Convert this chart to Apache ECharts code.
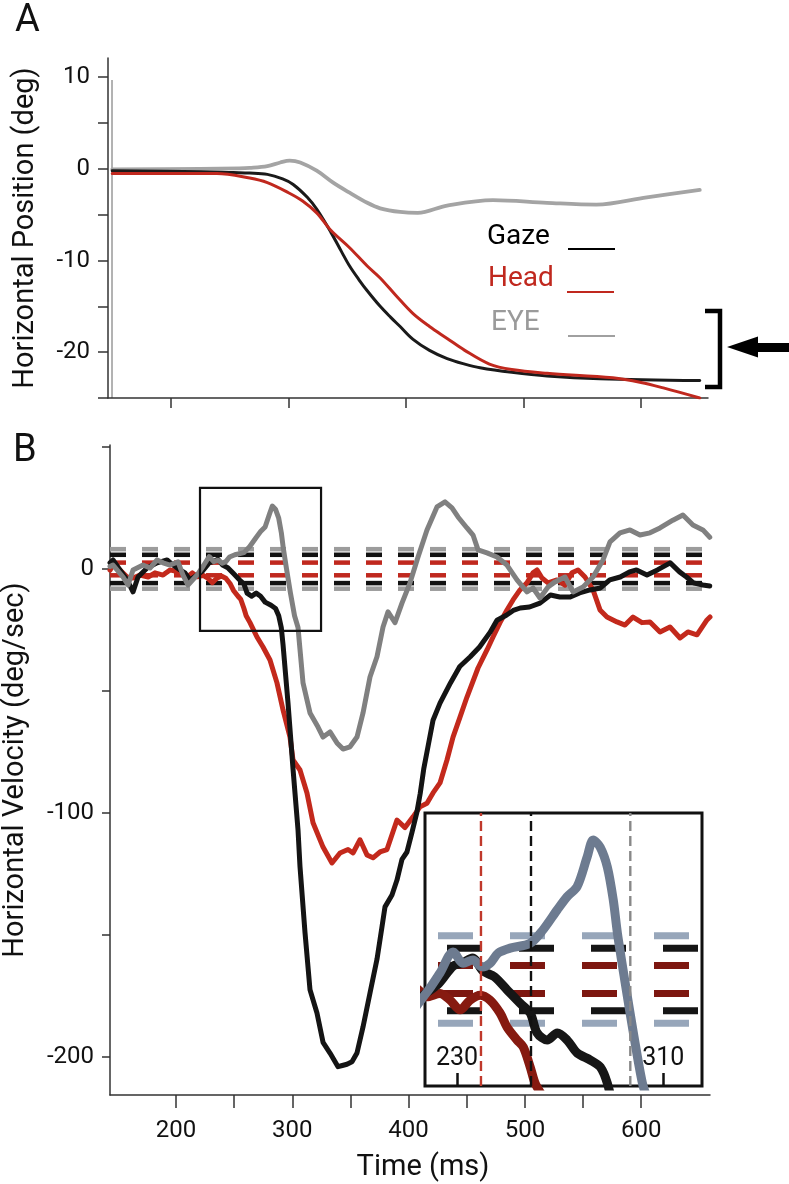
<!DOCTYPE html>
<html><head><meta charset="utf-8">
<script src="https://cdn.jsdelivr.net/npm/echarts@6/dist/echarts.min.js"></script>
<style>html,body{margin:0;padding:0;background:#fff}#c{width:789px;height:1184px}</style>
</head><body><div id="c"></div>
<script>
// ---------- DATA ----------
// Panel A: horizontal position (deg) vs time (ms)
const gazePosA = [[150,-0.2],[225,-0.3],[253,-0.4],[267,-0.45],[282,-0.6],[295,-1.1],[304,-1.7],[316,-3.1],[324,-4.4],[336,-6.9],[345,-9.0],[352,-10.6],[360,-12.1],[367,-13.3],[378,-15.0],[387,-16.2],[395,-17.2],[406,-18.6],[420,-19.8],[435,-20.7],[450,-21.3],[463,-21.7],[490,-22.2],[520,-22.6],[565,-22.9],[650,-23.1]];
const headPosA = [[150,-0.5],[239,-0.5],[267,-1.0],[282,-1.5],[300,-2.6],[312,-3.5],[324,-4.8],[336,-6.7],[352,-8.6],[367,-10.6],[378,-11.9],[392,-13.9],[406,-15.8],[420,-17.2],[435,-18.5],[450,-19.8],[471,-21.3],[490,-21.9],[520,-22.3],[576,-22.8],[600,-23.3],[619,-23.9],[650,-25.0]];
const eyePosA = [[150,-0.05],[225,0.0],[258,0.05],[267,0.1],[282,0.3],[293,0.7],[301,0.9],[310,0.7],[324,-0.2],[338,-1.5],[352,-2.6],[367,-3.7],[378,-4.3],[395,-4.7],[410,-4.8],[435,-4.0],[474,-3.4],[520,-3.7],[562,-3.9],[605,-3.1],[650,-2.3]];

// Panel B: horizontal velocity (deg/sec) vs time (ms)
const gazeVelB = [[143.2,2.5],[145.8,3.7],[151.8,-0.4],[157.9,-4.5],[163,-9.4],[167.3,-3.3],[175.1,0.4],[183.7,2.5],[192.3,3.7],[197.4,1.6],[203.4,-0.4],[207.7,-1.6],[212,-4.5],[218.1,-2.5],[223,-0.7],[228.5,2.5],[232,3.0],[236,4.0],[240,1.6],[244.5,0.5],[249.4,-1.9],[254.5,-4.4],[258.4,-6.2],[261.1,-9.9],[265,-11.2],[268.9,-9.9],[272.7,-11.2],[276.6,-13.6],[281.7,-14.9],[285.6,-16.2],[288.3,-19.2],[290.5,-24],[292,-31],[296.3,-55],[300.6,-82],[304.9,-107],[306.6,-122],[310.9,-149],[315.2,-172.5],[321.2,-182],[326.4,-194],[332.4,-198.4],[339.3,-204],[343,-203.5],[347,-203],[351.3,-202],[355.6,-198.4],[360.8,-187.7],[366.8,-173.8],[372.8,-160],[377.1,-146.7],[379.7,-138.5],[385.7,-133.6],[390,-127.5],[394.3,-119],[398.6,-116],[402.9,-108],[407,-100],[410,-92],[413,-82],[417,-72],[421,-62],[427,-55],[436,-46.7],[444,-40],[453,-36],[461,-32],[470,-26],[476,-21],[484,-19],[490,-17],[496,-16],[504,-15.6],[513,-14],[522,-10.7],[530,-11.5],[539,-11.5],[547,-9.8],[556,-8.6],[565,-7.8],[573,-4.5],[582,-3.3],[590,-1.2],[596,-0.4],[605,-2.5],[614,-0.4],[625,2.5],[633,-1.2],[639,-3.3],[645,-5.7],[653,-6.6],[659,-7]];
const headVelB = [[143.2,-0.5],[145.8,1.6],[151.8,-0.4],[157.9,-3.3],[163,-3.7],[169,-2.5],[176,-3.3],[181.9,-1.6],[188.8,-2.5],[194.8,-0.4],[201.7,-1.2],[209.5,-3.3],[214,-1.6],[218.3,-3.2],[223.4,-2.6],[227.3,-3.8],[231.2,-5.6],[235.1,-3.8],[239,-2.9],[242.8,-3.8],[246.7,-6.2],[249.4,-8.8],[253.3,-11.2],[255.7,-12.5],[258.4,-16.2],[260.3,-19.2],[263.6,-22],[269.6,-27.9],[274.8,-32],[280.8,-37.3],[286.8,-46.7],[292,-57.8],[298,-68.9],[300.6,-78.3],[306.6,-82.4],[312.6,-91.8],[317.8,-104],[326.4,-114],[334.1,-120.5],[341,-116.4],[347.9,-115],[352.2,-116.4],[358.2,-111],[364.2,-117.2],[369.4,-118.4],[375.4,-116],[381.4,-115],[390,-102.9],[396.9,-106],[403.8,-101.6],[409.8,-97.5],[415.8,-96],[421,-91.8],[427,-87.7],[433,-78.3],[438.2,-68.9],[444.2,-60.7],[450.2,-52.5],[459.7,-40.6],[467.4,-33.2],[472.6,-27.9],[478.6,-22],[484.6,-16.8],[489.8,-12.7],[495.8,-8.6],[501.8,-5.7],[507,-1.6],[510.4,-0.4],[514.7,-3.7],[519.9,-5.7],[527.6,-4.5],[534.5,-6.6],[540.5,-1.6],[545.7,-0.4],[551.7,-3.3],[558.6,-8.6],[564.6,-16.8],[570.6,-19.7],[579.2,-21.7],[586.1,-23],[593,-19.7],[600.7,-22],[607.6,-21.7],[616.2,-25.8],[624.8,-23.8],[633.4,-28.3],[640.2,-25.8],[648,-27],[656.6,-20.9],[659.2,-19.7]];
const eyeVelB = [[143.2,1.0],[145.8,1.6],[154.4,-3.3],[158.7,-6.6],[163,-0.4],[171.6,1.6],[177.6,0.4],[183.7,3.7],[188.8,2.5],[194.8,1.6],[201.7,2.9],[206,-2.5],[210.3,-6.6],[218.1,-2.5],[223.4,1.2],[228.5,5.1],[232.4,3.0],[236.2,3.6],[239.7,2.3],[242.8,3.0],[246,4.9],[250.6,5.8],[258.4,6.7],[263.4,9.2],[268.9,12.9],[272.7,15.3],[276.6,17.2],[280.5,22.7],[282.8,25.8],[285.5,24.5],[288.3,20.8],[290.6,14.7],[292.2,8.6],[295,0],[298.4,-9.9],[301.9,-19.2],[304.9,-24],[306.6,-33],[309.2,-46.7],[315.2,-59],[322.1,-64.8],[326.4,-68.9],[332.4,-66.8],[338.4,-71.3],[343.6,-73.8],[349.6,-72.9],[355.6,-68.9],[360.8,-59],[366.8,-44.3],[372.8,-36],[378,-23.8],[382.3,-17.6],[388.3,-22],[394.3,-14],[401.2,-5.7],[408.1,4.9],[415.8,16],[424.4,25.4],[431.3,27.5],[437.3,25],[442.5,21.3],[450.2,16.8],[455.4,13.9],[459.7,7.8],[467.4,6.6],[476,4.9],[484.6,1.6],[493.2,-4.5],[501.8,-9.4],[507,-7.8],[513,-11.9],[519.9,-7.4],[525.9,-5.3],[534.5,-3.3],[541.4,-9.4],[550,-7.4],[558.6,-3.3],[567.2,3.7],[573.2,11.1],[581.8,14.8],[590.4,16],[599,13.9],[607.6,14.8],[616.2,16.8],[627.3,20],[635.9,22.1],[644.5,18],[653.1,16],[659,13]];

// velocity thresholds (deg/sec): eye, gaze, head
const thrEye = 8.1, thrGaze = 5.8, thrHead = 2.6;
// movement onset times shown in inset (ms): head, gaze, eye
const onsetTimes = [239.3, 258.7, 297.2];
// zoom box drawn in panel B: [t0, t1, v0, v1]
const zoomBox = [220.6, 324.7, -25.4, 33.2];

// axis ticks / labels
const aTimeTicks = [200, 300, 400, 500, 600];
const aPosTicks = [-25, -20, -15, -10, -5, 0, 5, 10];
const aPosLabels = [-20, -10, 0, 10];
const bTimeTicks = [200, 250, 300, 350, 400, 450, 500, 550, 600];
const bTimeLabels = [200, 300, 400, 500, 600];
const bVelTicks = [-200, -150, -100, -50, 0, 50];
const bVelLabels = [-200, -100, 0];
const insetTicks = [230, 310];

// axis ranges
const aX = [146.4, 657], aY = [-25, 12.1];
const bX = [143.2, 659.2], bY = [-215.6, 50.8];
const iX = [217.6, 325], iY = [-19.7, 30.8];

// ---------- CHART ----------
const FONT = 'Roboto, "Open Sans", sans-serif';
const chart = echarts.init(document.getElementById('c'), null, {renderer: 'canvas'});

function hLine(v, r) { return [[r[0], v], [r[1], v]]; }
function vLine(t, r) { return [[t, r[0]], [t, r[1]]]; }
function lineSeries(data, xi, color, width, extra) {
  return Object.assign({
    type: 'line', xAxisIndex: xi, yAxisIndex: xi, data: data, symbol: 'none',
    lineStyle: {color: color, width: width, join: 'round', cap: 'round'},
    silent: true, animation: false
  }, extra || {});
}
function dashSeries(data, xi, color, width, dash, offset, z) {
  return {
    type: 'line', xAxisIndex: xi, yAxisIndex: xi, data: data, symbol: 'none', silent: true, animation: false,
    z: z, lineStyle: {color: color, width: width, type: dash, dashOffset: offset, cap: 'butt'}
  };
}

const axisCol = '#333';
const labelStyle = {color: '#111', fontSize: 24, fontFamily: FONT};

const series = [];
// Panel A
series.push(lineSeries(eyePosA, 0, '#a4a4a4', 3.8, {smooth: 0.35}));
series.push(lineSeries(gazePosA, 0, '#1a1a1a', 3, {smooth: 0.35}));
series.push(lineSeries(headPosA, 0, '#c0281e', 3, {smooth: 0.35}));
// Panel B thresholds
const mainDash = [16, 16];
[[thrEye, '#9c9c9c'], [thrGaze, '#111111'], [thrHead, '#c0281e']].forEach(function (p) {
  series.push(dashSeries(hLine(p[0], bX), 1, p[1], 4.5, mainDash, 0, 2));
  series.push(dashSeries(hLine(-p[0], bX), 1, p[1], 4.5, mainDash, 0, 2));
});
series.push(lineSeries(headVelB, 1, '#c3291c', 5, {z: 3}));
series.push(lineSeries(gazeVelB, 1, '#141414', 5, {z: 3}));
series.push(lineSeries(eyeVelB, 1, '#808080', 5, {z: 3}));
series.push(lineSeries([[zoomBox[0], zoomBox[3]], [zoomBox[1], zoomBox[3]], [zoomBox[1], zoomBox[2]], [zoomBox[0], zoomBox[2]], [zoomBox[0], zoomBox[3]]], 1, '#111', 2.2, {z: 3, lineStyle: {color: '#111', width: 2.2, join: 'miter', cap: 'square'}}));
// Inset thresholds
const insetDash = [35, 37];
[[thrEye, '#97a6ba', 59], [thrGaze, '#151515', 50], [thrHead, '#7d1710', 59]].forEach(function (p) {
  series.push(dashSeries(hLine(p[0], iX), 2, p[1], 7, insetDash, p[2], 7));
  series.push(dashSeries(hLine(-p[0], iX), 2, p[1], 7, insetDash, p[2], 7));
});
series.push(lineSeries(headVelB, 2, '#861a10', 9, {z: 8, smooth: 0.3}));
series.push(lineSeries(gazeVelB, 2, '#161616', 9, {z: 8, smooth: 0.3}));
series.push(lineSeries(eyeVelB, 2, '#6d7b90', 9, {z: 8, smooth: 0.3}));
[['#c0392b', onsetTimes[0]], ['#111111', onsetTimes[1]], ['#888888', onsetTimes[2]]].forEach(function (p) {
  series.push(dashSeries(vLine(p[1], iY), 2, p[0], 2.4, [10, 5], 0, 9));
});

const option = {
  backgroundColor: '#fff',
  animation: false,
  textStyle: {fontFamily: FONT},
  grid: [
    {left: 108, top: 58, width: 600, height: 340, outerBoundsMode: 'none', containLabel: false},
    {left: 110, top: 445, width: 600, height: 650, outerBoundsMode: 'none', containLabel: false},
    {left: 425, top: 813, width: 277, height: 273, outerBoundsMode: 'none', containLabel: false,
     show: true, backgroundColor: '#fff', borderColor: '#111', borderWidth: 3, z: 5}
  ],
  xAxis: [
    {gridIndex: 0, type: 'value', min: aX[0], max: aX[1],
     axisLine: {show: true, onZero: false, lineStyle: {color: axisCol, width: 1.5}},
     axisTick: {show: true, length: 10, customValues: aTimeTicks, lineStyle: {color: axisCol, width: 1.5}},
     axisLabel: {show: false}, splitLine: {show: false}},
    {gridIndex: 1, type: 'value', min: bX[0], max: bX[1],
     axisLine: {show: true, onZero: false, lineStyle: {color: axisCol, width: 1.5}},
     axisTick: {show: true, length: 13, customValues: bTimeTicks, lineStyle: {color: axisCol, width: 1.5}},
     axisLabel: Object.assign({customValues: bTimeLabels, margin: 24}, labelStyle),
     splitLine: {show: false},
     name: 'Time (ms)', nameLocation: 'middle', nameGap: 58,
     nameTextStyle: {fontSize: 29, color: '#111', fontFamily: FONT, padding: [0, 0, 0, 26]}},
    {gridIndex: 2, type: 'value', min: iX[0], max: iX[1], z: 6,
     axisLine: {show: false, onZero: false},
     axisTick: {show: true, inside: true, length: 13, customValues: insetTicks, lineStyle: {color: '#111', width: 2.5}},
     axisLabel: Object.assign({inside: true, customValues: insetTicks, margin: 15}, labelStyle, {fontSize: 25}),
     splitLine: {show: false}}
  ],
  yAxis: [
    {gridIndex: 0, type: 'value', min: aY[0], max: aY[1],
     axisLine: {show: true, onZero: false, lineStyle: {color: axisCol, width: 1.5}},
     axisTick: {show: true, length: 10, customValues: aPosTicks, lineStyle: {color: axisCol, width: 1.5}},
     axisLabel: Object.assign({customValues: aPosLabels, margin: 18}, labelStyle),
     splitLine: {show: false},
     name: 'Horizontal Position (deg)', nameLocation: 'middle', nameGap: 68,
     nameTextStyle: {fontSize: 29, color: '#111', fontFamily: FONT}},
    {gridIndex: 1, type: 'value', min: bY[0], max: bY[1],
     axisLine: {show: true, onZero: false, lineStyle: {color: axisCol, width: 1.5}},
     axisTick: {show: true, length: 8, customValues: bVelTicks, lineStyle: {color: axisCol, width: 1.5}},
     axisLabel: Object.assign({customValues: bVelLabels, margin: 16}, labelStyle),
     splitLine: {show: false},
     name: 'Horizontal Velocity (deg/sec)', nameLocation: 'middle', nameGap: 80,
     nameTextStyle: {fontSize: 29, color: '#111', fontFamily: FONT}},
    {gridIndex: 2, type: 'value', min: iY[0], max: iY[1], z: 6,
     axisLine: {show: false}, axisTick: {show: false}, axisLabel: {show: false}, splitLine: {show: false}}
  ],
  series: series,
  graphic: [
    {type: 'text', left: 15, top: 2, silent: true, style: {text: 'A', fontSize: 38, fontFamily: FONT, fill: '#111'}},
    {type: 'text', left: 13, top: 432, silent: true, style: {text: 'B', fontSize: 38, fontFamily: FONT, fill: '#111'}},
    {type: 'line', silent: true, shape: {x1: 112, y1: 80, x2: 112, y2: 398}, style: {stroke: '#666', lineWidth: 1}},
    {type: 'text', x: 487, y: 237, silent: true, style: {text: 'Gaze', fontSize: 28, fontFamily: FONT, fill: '#000', textVerticalAlign: 'middle'}},
    {type: 'text', x: 488, y: 279, silent: true, style: {text: 'Head', fontSize: 28, fontFamily: FONT, fill: '#c0281e', textVerticalAlign: 'middle'}},
    {type: 'text', x: 491, y: 323, silent: true, style: {text: 'EYE', fontSize: 28, fontFamily: FONT, fill: '#9a9a9a', textVerticalAlign: 'middle'}},
    {type: 'line', silent: true, shape: {x1: 568, y1: 249, x2: 615, y2: 249}, style: {stroke: '#000', lineWidth: 2}},
    {type: 'line', silent: true, shape: {x1: 567, y1: 292, x2: 614, y2: 292}, style: {stroke: '#c0281e', lineWidth: 2}},
    {type: 'line', silent: true, shape: {x1: 568, y1: 336, x2: 615, y2: 336}, style: {stroke: '#a0a0a0', lineWidth: 2}},
    {type: 'polyline', silent: true, shape: {points: [[705, 311], [720, 311], [720, 387], [705, 387]]}, style: {stroke: '#000', lineWidth: 4.5, fill: null}},
    {type: 'polygon', silent: true, shape: {points: [[727, 347], [758, 336.5], [758, 343], [789, 343], [789, 352], [758, 352], [758, 357.5]]}, style: {fill: '#000'}}
  ]
};
chart.setOption(option);
</script>
</body></html>
